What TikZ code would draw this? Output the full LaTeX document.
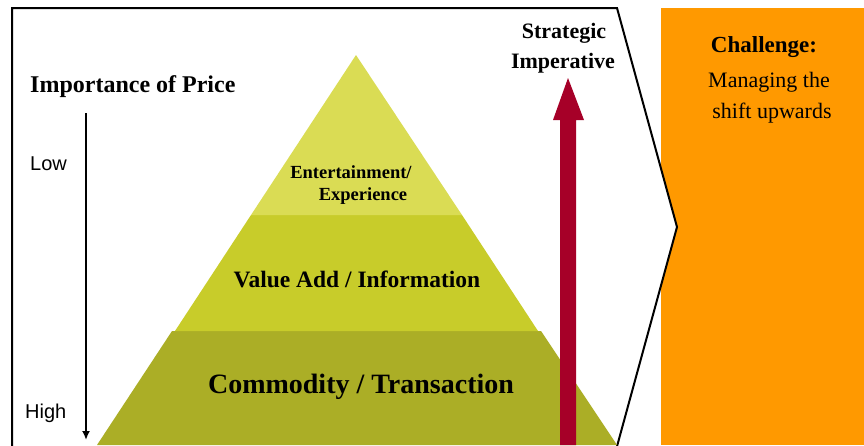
\documentclass[tikz,border=0pt]{standalone}
\usepackage{fontspec}
\setmainfont{Liberation Serif}
\newfontfamily\labelsans{Liberation Sans}
\usetikzlibrary{arrows.meta}
\definecolor{layertop}{RGB}{218,220,84}
\definecolor{layermid}{RGB}{200,204,42}
\definecolor{layerbot}{RGB}{171,174,38}
\definecolor{shiftred}{RGB}{166,0,40}
\definecolor{challenge}{RGB}{255,153,0}
\tikzset{
  heading/.style={font=\fontsize{24}{26}\selectfont\bfseries, inner sep=0pt, anchor=base},
  scalelabel/.style={font=\labelsans\fontsize{20}{22}\selectfont, inner sep=0pt, anchor=base west},
  tier/.style={font=\bfseries, inner sep=0pt, anchor=base},
  body/.style={font=\fontsize{22}{24}\selectfont, inner sep=0pt, anchor=base},
  framepath/.style={draw=black, fill=white, line width=2pt, line join=miter},
  pricearrow/.style={draw=black, line width=2pt, -{Latex[length=9pt,width=8pt]}},
}
\begin{document}
\begin{tikzpicture}[x=1pt,y=-1pt]
\useasboundingbox (0,0) rectangle (864,445);

% challenge panel, partly covered by the chevron frame
\fill[challenge] (661,8) rectangle (864,445);

% chevron frame
\path[framepath] (12,450) -- (12,8) -- (617,8) -- (677,227) -- (616,450);

% pyramid layers
\fill[layerbot] (172,331) -- (541,331) -- (617,445) -- (97,445) -- cycle;
\fill[layermid] (251,215) -- (462,215) -- (538,331) -- (175,331) -- cycle;
\fill[layertop] (356,55) -- (462,215) -- (251,215) -- cycle;

% strategic imperative arrow
\fill[shiftred] (560,445) -- (560,120) -- (553,120) -- (568,78) -- (584,120) -- (576,120) -- (576,445) -- cycle;

% importance-of-price scale
\coordinate (pricetop) at (86,113);
\coordinate (pricebot) at (86,440);
\draw[pricearrow] (pricetop) -- (pricebot);

\node[heading, anchor=base west] (price) at (30,92) {Importance of Price};
\node[scalelabel] (low) at (30,170) {Low};
\node[scalelabel] (high) at (25,418) {High};

% tier labels
\node[tier, font=\bfseries\fontsize{18.5}{20}\selectfont] (ent) at (351,178) {Entertainment/};
\node[tier, font=\bfseries\fontsize{18.5}{20}\selectfont] (exp) at (363,200) {Experience};
\node[tier, font=\bfseries\fontsize{23.5}{26}\selectfont] (value) at (357,287) {Value Add / Information};
\node[tier, font=\bfseries\fontsize{28}{30}\selectfont] (commodity) at (361,393) {Commodity / Transaction};

% strategic imperative heading
\node[heading, font=\bfseries\fontsize{22}{24}\selectfont] (strat) at (564,38) {Strategic};
\node[heading, font=\bfseries\fontsize{22}{24}\selectfont] (imper) at (563,68) {Imperative};

% challenge text
\node[heading, font=\bfseries\fontsize{23}{25}\selectfont] (chal) at (764,52) {Challenge:};
\node[body] (manage) at (769,87) {Managing the};
\node[body] (shift) at (772,118) {shift upwards};
\end{tikzpicture}
\end{document}
